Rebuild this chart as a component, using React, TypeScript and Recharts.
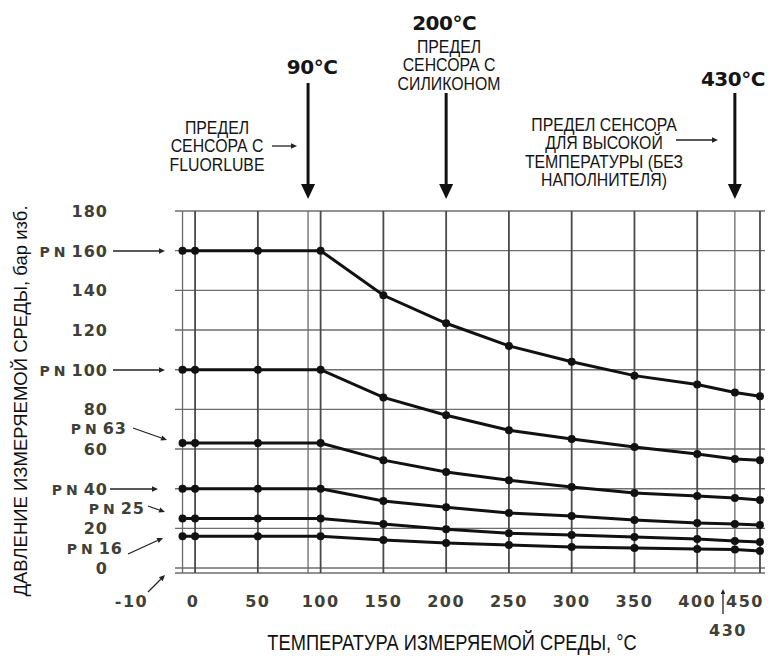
import React from 'react';
import { LineChart, Line, XAxis, YAxis, CartesianGrid, ReferenceLine } from 'recharts';

// temperature points, °C
const temps = [-10, 0, 50, 100, 150, 200, 250, 300, 350, 400, 430, 450];

// allowed pressure, bar, per nominal pressure class
const pn160 = [160, 160, 160, 160, 137.5, 123.4, 112, 104, 97, 92.5, 88.5, 86.6];
const pn100 = [100, 100, 100, 100, 86, 77, 69.5, 65, 61, 57.5, 55, 54.4];
const pn63 = [63, 63, 63, 63, 54.4, 48.4, 44.3, 40.8, 37.8, 36.3, 35.3, 34.3];
const pn40 = [40, 40, 40, 40, 33.8, 30.7, 27.7, 26.2, 24.2, 22.7, 22.2, 21.7];
const pn25 = [25, 25, 25, 25, 22.2, 19.6, 17.6, 16.6, 15.6, 14.6, 13.6, 13.1];
const pn16 = [16, 16, 16, 16, 14.1, 12.6, 11.6, 10.6, 10.1, 9.6, 9.3, 8.6];

const xTicks = [-10, 0, 50, 100, 150, 200, 250, 300, 350, 400, 450];
const yTicks = [0, 20, 40, 60, 80, 100, 120, 140, 160, 180];
const pnTicks = [160, 100, 40];
const gridX = [-10, 0, 50, 90, 100, 150, 200, 250, 300, 350, 400, 430, 450];
const thinGridX = [-10, 90, 430];
const limitTemps = [90, 200, 430];
const limitLabels = ['90°C', '200°C', '430°C'];

const data = temps.map((t, i) => ({
  t,
  pn160: pn160[i],
  pn100: pn100[i],
  pn63: pn63[i],
  pn40: pn40[i],
  pn25: pn25[i],
  pn16: pn16[i],
}));
const seriesKeys = ['pn160', 'pn100', 'pn63', 'pn40', 'pn25', 'pn16'];

const TICK_FONT = '"DejaVu Sans", Verdana, sans-serif';
const SANS = '"Liberation Sans", Arial, sans-serif';
const TICK_COLOR = '#404038';

// label nudges (tick labels drawn off their grid line in the source)
const xTickDx: Record<number, number> = { [-10]: -51, 0: -2, 450: -15 };

const XTick = (props: any) => {
  const { x, y, payload } = props;
  const v = payload.value;
  return (
    <text x={x + (xTickDx[v] || 0)} y={y + 34} textAnchor="middle" fontFamily={TICK_FONT}
      fontWeight="bold" fontSize={16} letterSpacing={1.5} fill={TICK_COLOR}>
      {v}
    </text>
  );
};

const YTick = (props: any) => {
  const { x, y, payload } = props;
  const v = payload.value;
  const isPn = pnTicks.includes(v);
  return (
    <text x={x - 67} y={y + 6} textAnchor="end" fontFamily={TICK_FONT} fontWeight="bold"
      fontSize={16} letterSpacing={1} fill={TICK_COLOR}>
      {isPn && <tspan fontSize={14} letterSpacing={4}>PN</tspan>}
      {isPn ? <tspan dx={2}>{v}</tspan> : v}
    </text>
  );
};

// layout of the sensor-limit arrows at the top
const limitLayout: Record<number, { top: number; labelY: number; labelDx: number }> = {
  90: { top: 83, labelY: 74, labelDx: 4 },
  200: { top: 93, labelY: 30, labelDx: -2 },
  430: { top: 93, labelY: 86, labelDx: -2 },
};

const LimitArrow = (props: any) => {
  const { x1, t, label } = props;
  const l = limitLayout[t];
  return (
    <g>
      <line x1={x1} x2={x1} y1={l.top} y2={186} stroke="#111" strokeWidth={3} />
      <polygon points={`${x1 - 7},${184} ${x1 + 7},${184} ${x1},${199}`} fill="#111" />
      <text x={x1 + l.labelDx} y={l.labelY} textAnchor="middle" fontFamily={TICK_FONT}
        fontWeight="bold" fontSize={20} letterSpacing={-0.5} fill="#151515">
        {label}
      </text>
    </g>
  );
};

const Arrow = ({ x1, y1, x2, y2, head = 6, w = 1.3 }: any) => {
  const a = Math.atan2(y2 - y1, x2 - x1);
  const bx = x2 - head * Math.cos(a);
  const by = y2 - head * Math.sin(a);
  const px = Math.sin(a) * head * 0.45;
  const py = -Math.cos(a) * head * 0.45;
  return (
    <g>
      <line x1={x1} y1={y1} x2={bx} y2={by} stroke="#222" strokeWidth={w} />
      <polygon points={`${x2},${y2} ${bx + px},${by + py} ${bx - px},${by - py}`} fill="#222" />
    </g>
  );
};

const PnLabel = ({ x, y, value }: any) => (
  <text x={x} y={y + 6} textAnchor="end" fontFamily={TICK_FONT} fontWeight="bold" fontSize={16}
    letterSpacing={1} fill={TICK_COLOR}>
    <tspan fontSize={14} letterSpacing={4}>PN</tspan>
    <tspan dx={2}>{value}</tspan>
  </text>
);

// condensed text: no narrow face installed, so squeeze Liberation Sans horizontally
const Narrow = ({ x, y, lines, size = 18, scale = 0.88, gap = 18.5 }: any) => (
  <g transform={`translate(${x} 0) scale(${scale} 1)`}>
    <text x={0} textAnchor="middle" fontFamily={SANS} fontSize={size} fill="#151515">
      {lines.map((s: string, i: number) => (
        <tspan key={i} x={0} y={y + i * gap}>{s}</tspan>
      ))}
    </text>
  </g>
);

export default function App() {
  return (
    <div style={{ position: 'absolute', left: 0, top: 0, width: 781, height: 656, background: '#fff' }}>
      <LineChart width={781} height={656} data={data}
        margin={{ top: 211, right: 16, bottom: 53, left: 115 }}>
        <CartesianGrid vertical={false} stroke="#6e6e6e" strokeWidth={1.4} />
        <XAxis type="number" dataKey="t" domain={[-16, 454]} ticks={xTicks} interval={0}
          tick={<XTick />} tickLine={false} axisLine={false} tickSize={0} tickMargin={0}
          height={30} allowDataOverflow />
        <YAxis type="number" domain={[-2.5, 180]} ticks={yTicks} interval={0} tick={<YTick />}
          tickLine={false} axisLine={false} tickSize={0} tickMargin={0} width={60} allowDataOverflow />
        {gridX.map((v) => (
          <ReferenceLine key={'g' + v} x={v}
            stroke={thinGridX.includes(v) ? '#6a6a6a' : '#4a4a4a'}
            strokeWidth={thinGridX.includes(v) ? 1.3 : 1.8} />
        ))}
        {limitTemps.map((t, i) => (
          <ReferenceLine key={'l' + t} x={t} ifOverflow="visible" stroke="none"
            shape={(p: any) => <LimitArrow {...p} t={t} label={limitLabels[i]} />} />
        ))}
        {seriesKeys.map((k) => (
          <Line key={k} dataKey={k} type="linear" stroke="#111" strokeWidth={3}
            dot={{ r: 4, fill: '#111', stroke: '#111', strokeWidth: 0 }} activeDot={false}
            isAnimationActive={false} />
        ))}
      </LineChart>

      <svg width={781} height={656} style={{ position: 'absolute', left: 0, top: 0, pointerEvents: 'none' }}>
        <Narrow x={449} y={53} lines={['ПРЕДЕЛ', 'СЕНСОРА С', 'СИЛИКОНОМ']} />
        <Narrow x={217} y={134} lines={['ПРЕДЕЛ', 'СЕНСОРА С', 'FLUORLUBE']} />
        <Arrow x1={272} y1={146} x2={297} y2={146} />
        <Narrow x={604} y={131} lines={['ПРЕДЕЛ СЕНСОРА', 'ДЛЯ ВЫСОКОЙ', 'ТЕМПЕРАТУРЫ (БЕЗ', 'НАПОЛНИТЕЛЯ)']} />
        <Arrow x1={676} y1={140} x2={718} y2={140} />

        <Arrow x1={113} y1={251} x2={165} y2={251} />
        <Arrow x1={113} y1={370} x2={165} y2={370} />
        <PnLabel x={127} y={428} value={63} />
        <Arrow x1={133} y1={428} x2={167} y2={440} />
        <Arrow x1={110} y1={489} x2={158} y2={489} />
        <PnLabel x={145} y={508} value={25} />
        <Arrow x1={148} y1={506} x2={165} y2={512} />
        <PnLabel x={123} y={548} value={16} />
        <Arrow x1={128} y1={554} x2={163} y2={538} />
        <Arrow x1={148} y1={592} x2={165} y2={575} />

        <Arrow x1={723} y1={614} x2={723} y2={589} head={5} />
        <text x={728} y={636} textAnchor="middle" fontFamily={TICK_FONT} fontWeight="bold"
          fontSize={16} letterSpacing={1.5} fill={TICK_COLOR}>430</text>

        <text x={27} y={401} transform="rotate(-90 27 401)" textAnchor="middle"
          fontFamily={SANS} fontSize={18.5} fill="#111">
          ДАВЛЕНИЕ ИЗМЕРЯЕМОЙ СРЕДЫ, бар изб.
        </text>
        <g transform="translate(452 0) scale(0.83 1)">
          <text x={0} y={650} textAnchor="middle" fontFamily={SANS} fontSize={22} fill="#111">
            ТЕМПЕРАТУРА ИЗМЕРЯЕМОЙ СРЕДЫ, °C
          </text>
        </g>
      </svg>
    </div>
  );
}
